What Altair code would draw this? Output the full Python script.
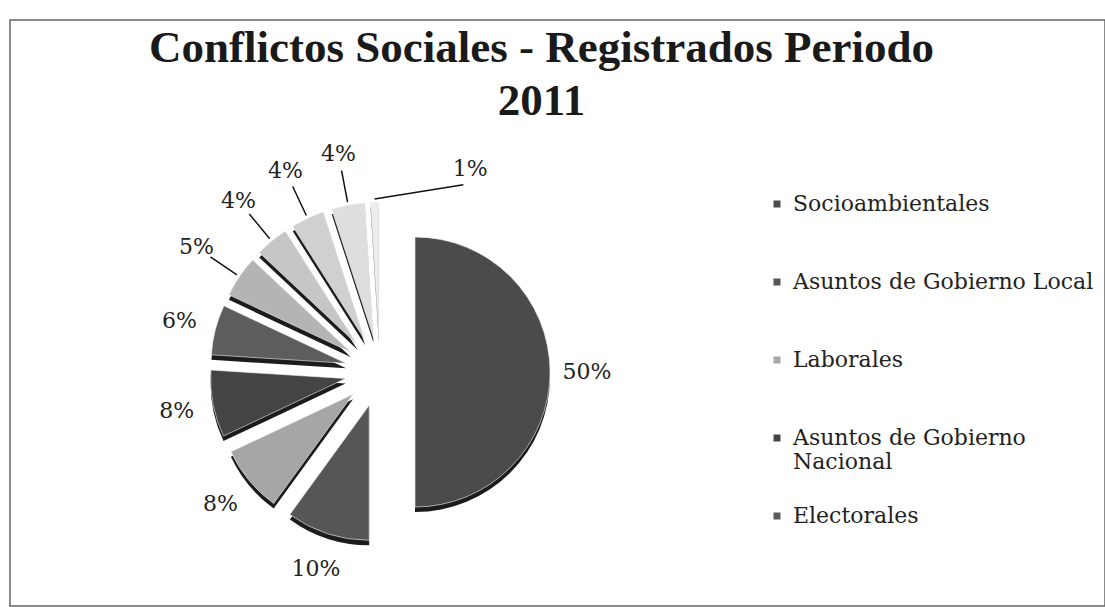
import altair as alt
import pandas as pd

categories = [
    "Socioambientales",
    "Asuntos de Gobierno Local",
    "Laborales",
    "Asuntos de Gobierno Nacional",
    "Electorales",
    "Demarcación Territorial",
    "Asuntos de Gobierno Regional",
    "Comunales",
    "Cultivo Ilegal de Hoja de Coca",
    "Otros Asuntos",
]
values = [50, 10, 8, 8, 6, 5, 4, 4, 4, 1]
colors = ["#4b4b4b", "#565656", "#a6a6a6", "#444444", "#5d5d5d",
          "#b4b4b4", "#c6c6c6", "#d0d0d0", "#dedede", "#ededed"]

df = pd.DataFrame({"category": categories, "value": values, "idx": list(range(len(values)))})

CX, CY, R, EXPL = 370, 352, 135, 35

base = alt.Chart(df).transform_window(
    cum="sum(value)", sort=[alt.SortField("idx")], frame=[None, 0]
).transform_joinaggregate(total="sum(value)").transform_calculate(
    a0="2*PI*(datum.cum - datum.value)/datum.total",
    a1="2*PI*datum.cum/datum.total",
).transform_calculate(
    mid="(datum.a0 + datum.a1)/2",
).transform_calculate(
    cx=f"{CX} + {EXPL}*sin(datum.mid)",
    cy=f"{CY} - {EXPL}*cos(datum.mid)",
    cys=f"{CY} - {EXPL}*cos(datum.mid) + 5",
    la="datum.mid + (datum.value < 2 ? 0.45 : 0)",
    lr="datum.value <= 5 ? 222 : 207",
    label="format(datum.value/datum.total, '.0%')",
).transform_calculate(
    lx=f"{CX} + datum.lr*sin(datum.la)",
    ly=f"{CY} - datum.lr*cos(datum.la)",
    sx=f"{CX} + {R + EXPL + 3}*sin(datum.mid)",
    sy=f"{CY} - {R + EXPL + 3}*cos(datum.mid)",
    ex=f"{CX} + (datum.lr - 17)*sin(datum.la)",
    ey=f"{CY} - (datum.lr - 17)*cos(datum.la)",
)

shadow = base.mark_arc(radius=R, color="#1c1c1c").encode(
    theta=alt.Theta("a0:Q", scale=None),
    theta2="a1:Q",
    x=alt.X("cx:Q", scale=None),
    y=alt.Y("cys:Q", scale=None),
)

legend = alt.Legend(
    values=categories[:5],
    title=None,
    orient="none",
    legendX=756,
    legendY=173,
    symbolType="square",
    symbolSize=49,
    symbolStrokeWidth=0,
    labelFont="DejaVu Serif",
    labelFontSize=22,
    labelColor="#222222",
    labelOffset=5,
    labelLimit=400,
    gridAlign="all",
    rowPadding=32,
    padding=0,
    clipHeight=22,
    labelExpr="datum.label == 'Asuntos de Gobierno Nacional' ? ['Asuntos de Gobierno', 'Nacional'] : datum.label",
)

slices = base.mark_arc(radius=R, stroke="#f4f4f4", strokeWidth=0.6).encode(
    theta=alt.Theta("a0:Q", scale=None),
    theta2="a1:Q",
    x=alt.X("cx:Q", scale=None),
    y=alt.Y("cy:Q", scale=None),
    color=alt.Color("category:N", scale=alt.Scale(domain=categories, range=colors), legend=legend),
)

leaders = base.transform_filter("datum.value <= 5").mark_rule(color="#111111", strokeWidth=1.5).encode(
    x=alt.X("sx:Q", scale=None),
    y=alt.Y("sy:Q", scale=None),
    x2="ex:Q",
    y2="ey:Q",
)

labels = base.mark_text(font="DejaVu Serif", fontSize=22, color="#222222",
                        align="center", baseline="middle").encode(
    x=alt.X("lx:Q", scale=None),
    y=alt.Y("ly:Q", scale=None),
    text="label:N",
)

chart = alt.layer(shadow, slices, leaders, labels).properties(
    width=1095,
    height=586,
    padding={"left": 10, "top": 20, "right": 0, "bottom": 1},
    autosize=alt.AutoSizeParams(type="none"),
    background="white",
    title=alt.TitleParams(
        text=["Conflictos Sociales - Registrados Periodo", "2011"],
        font="Liberation Serif",
        fontSize=45,
        fontWeight="bold",
        color="#1a1a1a",
        anchor="middle",
        frame="group",
        dx=-16,
        offset=-104,
        lineHeight=53,
    ),
).configure_view(stroke="#666666", strokeWidth=1.5)

chart.save("out.html", embed_options={"renderer": "svg", "actions": False})
